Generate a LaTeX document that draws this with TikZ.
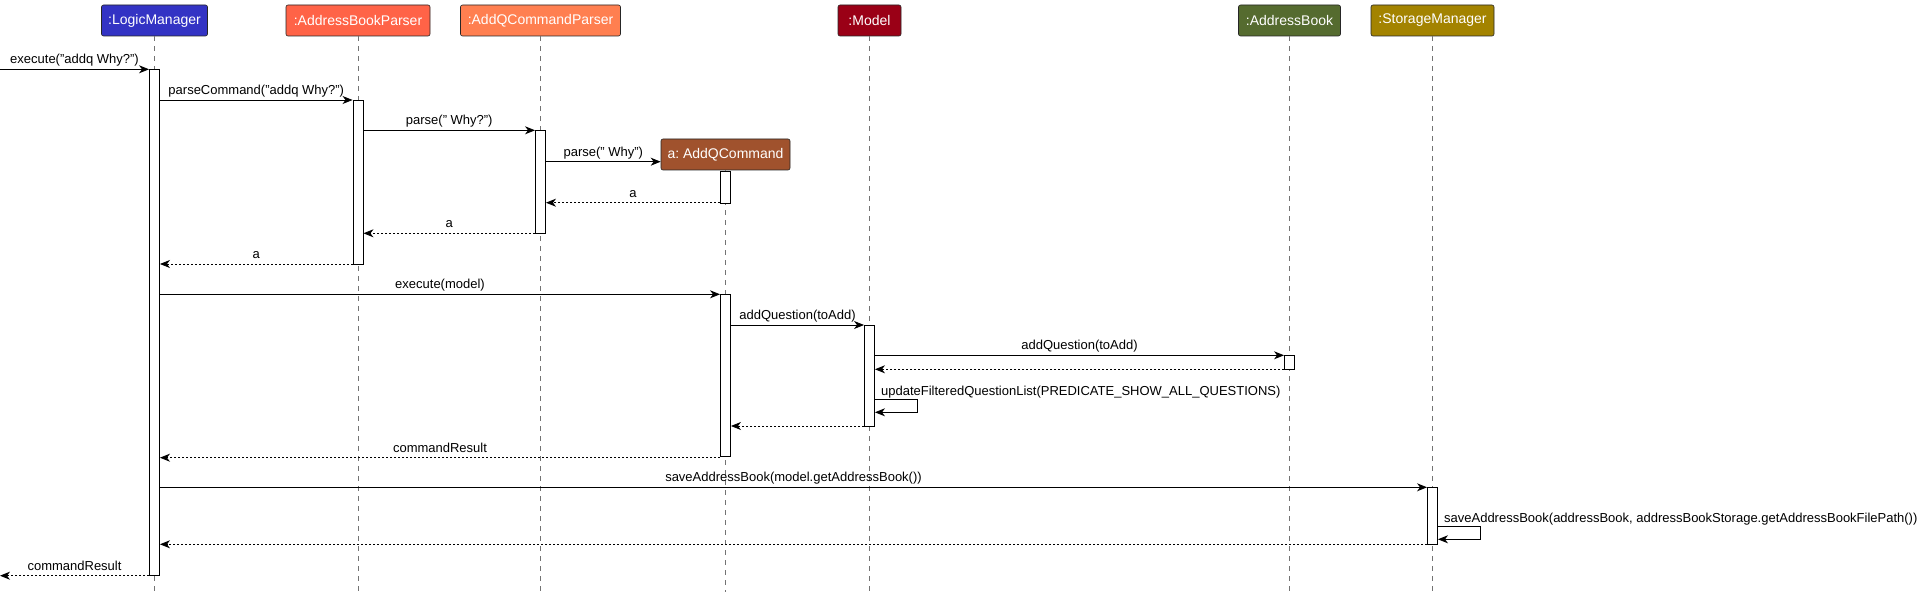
\documentclass[tikz,border=0pt]{standalone}
\usepackage{fontspec}
\setmainfont{Liberation Sans}
\usepackage{tikz}
\usetikzlibrary{arrows.meta}
\definecolor{lmblue}{HTML}{3333C4}
\definecolor{abpred}{HTML}{FF6347}
\definecolor{aqpcoral}{HTML}{FF7F50}
\definecolor{mdlred}{HTML}{9A0016}
\definecolor{abgreen}{HTML}{556B2F}
\definecolor{smgold}{HTML}{A38300}
\definecolor{aqsienna}{HTML}{A0522D}
\tikzset{>={Stealth[length=10pt, width=8pt, inset=3pt]}}
\tikzstyle{head} = [rectangle, rounded corners=2pt, draw=black!85, line width=0.6pt, text=white, minimum height=31pt, inner xsep=2pt, font=\fontsize{14}{16}\selectfont]
\tikzstyle{actbar} = [rectangle, draw=black, fill=white, line width=0.9pt, minimum width=10pt, inner sep=0]
\tikzstyle{call} = [->, line width=0.9pt]
\tikzstyle{ret} = [->, line width=0.9pt, dash pattern=on 2pt off 2pt]
\tikzstyle{lifeline} = [black!55, line width=0.7pt, dash pattern=on 5pt off 5pt]
\tikzstyle{lbl} = [anchor=base, inner sep=0, yshift=5.5pt, font=\fontsize{13}{15}\selectfont]
\tikzstyle{selflbl} = [anchor=base west, inner sep=0, xshift=6pt, yshift=4.2pt, font=\fontsize{13}{15}\selectfont]

\begin{document}
\frenchspacing
\begin{tikzpicture}[x=1pt, y=-1pt]
\useasboundingbox (0, 0) rectangle (1923, 599);
% participants
\node [head, fill=lmblue, minimum width=106pt] (lm) at (154.5, 20.5) {:LogicManager};
\node [head, fill=abpred, minimum width=144pt] (abp) at (358, 20.5) {:AddressBookParser};
\node [head, fill=aqpcoral, minimum width=160pt] (aqp) at (540.5, 20.5) {:AddQCommandParser};
\node [head, fill=mdlred, minimum width=63pt] (mdl) at (869.5, 20.5) {:Model};
\node [head, fill=abgreen, minimum width=102pt] (ab) at (1289.5, 20.5) {:AddressBook};
\node [head, fill=smgold, minimum width=123pt] (sm) at (1432.5, 20.5) {:StorageManager};
\node [head, fill=aqsienna, minimum width=129pt] (aq) at (725.5, 154.5) {a: AddQCommand};
\coordinate (bottom) at (0, 592);
\foreach \p in {lm, abp, aqp, mdl, ab, sm, aq}
  \draw [lifeline] (\p.south) -- (\p.south |- bottom);
% activations
\node [actbar, minimum height=506.4pt] (lm1) at (154.5, 322.5) {};
\node [actbar, minimum height=164pt] (abp1) at (358, 182) {};
\node [actbar, minimum height=103pt] (aqp1) at (540.5, 181.8) {};
\node [actbar, minimum height=31.6pt] (aq1) at (725.5, 187.5) {};
\node [actbar, minimum height=162.4pt] (aq2) at (725.5, 375.5) {};
\node [actbar, minimum height=101pt] (mdl1) at (869.5, 375.5) {};
\node [actbar, minimum height=14pt] (ab1) at (1289.5, 362.3) {};
\node [actbar, minimum height=57pt] (sm1) at (1432.5, 515.8) {};
% message rows
\coordinate (entry) at (0, 69.3);
\coordinate (r2) at (0, 100);
\coordinate (r3) at (0, 130.3);
\coordinate (r4) at (0, 161.7);
\coordinate (r5) at (0, 202.7);
\coordinate (r6) at (0, 233.3);
\coordinate (r7) at (0, 264);
\coordinate (r8) at (0, 294.3);
\coordinate (r9) at (0, 325);
\coordinate (r10) at (0, 355.3);
\coordinate (r11) at (0, 369.3);
\coordinate (r12) at (0, 399.3);
\coordinate (r12b) at (0, 412.3);
\coordinate (r13) at (0, 426);
\coordinate (r14) at (0, 457.7);
\coordinate (r15) at (0, 487.3);
\coordinate (r16) at (0, 526.7);
\coordinate (r16b) at (0, 539.3);
\coordinate (r17) at (0, 544.3);
\coordinate (exit) at (0, 575.7);
% messages
\draw [call] (entry) -- (lm1.west |- entry) node [lbl, midway] {execute("addq Why?")};
\draw [call] (lm1.east |- r2) -- (abp1.west |- r2) node [lbl, midway] {parseCommand("addq Why?")};
\draw [call] (abp1.east |- r3) -- (aqp1.west |- r3) node [lbl, midway] {parse(" Why?")};
\draw [call] (aqp1.east |- r4) -- (aq.west |- r4) node [lbl, midway] {parse(" Why")};
\draw [ret] (aq1.west |- r5) -- (aqp1.east |- r5) node [lbl, midway] {a};
\draw [ret] (aqp1.west |- r6) -- (abp1.east |- r6) node [lbl, midway] {a};
\draw [ret] (abp1.west |- r7) -- (lm1.east |- r7) node [lbl, midway] {a};
\draw [call] (lm1.east |- r8) -- (aq2.west |- r8) node [lbl, midway] {execute(model)};
\draw [call] (aq2.east |- r9) -- (mdl1.west |- r9) node [lbl, midway] {addQuestion(toAdd)};
\draw [call] (mdl1.east |- r10) -- (ab1.west |- r10) node [lbl, midway] {addQuestion(toAdd)};
\draw [ret] (ab1.west |- r11) -- (mdl1.east |- r11);
\draw [call] (mdl1.east |- r12) -- ++(42, 0) |- (mdl1.east |- r12b);
\node [selflbl] (updlbl) at (mdl1.east |- r12) {updateFilteredQuestionList(PREDICATE\_SHOW\_ALL\_QUESTIONS)};
\draw [ret] (mdl1.west |- r13) -- (aq2.east |- r13);
\draw [ret] (aq2.west |- r14) -- (lm1.east |- r14) node [lbl, midway] {commandResult};
\draw [call] (lm1.east |- r15) -- (sm1.west |- r15) node [lbl, midway] {saveAddressBook(model.getAddressBook())};
\draw [call] (sm1.east |- r16) -- ++(42, 0) |- (sm1.east |- r16b);
\node [selflbl] (savelbl) at (sm1.east |- r16) {saveAddressBook(addressBook, addressBookStorage.getAddressBookFilePath())};
\draw [ret] (sm1.west |- r17) -- (lm1.east |- r17);
\draw [ret] (lm1.west |- exit) -- (exit) node [lbl, midway] {commandResult};
\end{tikzpicture}
\end{document}
